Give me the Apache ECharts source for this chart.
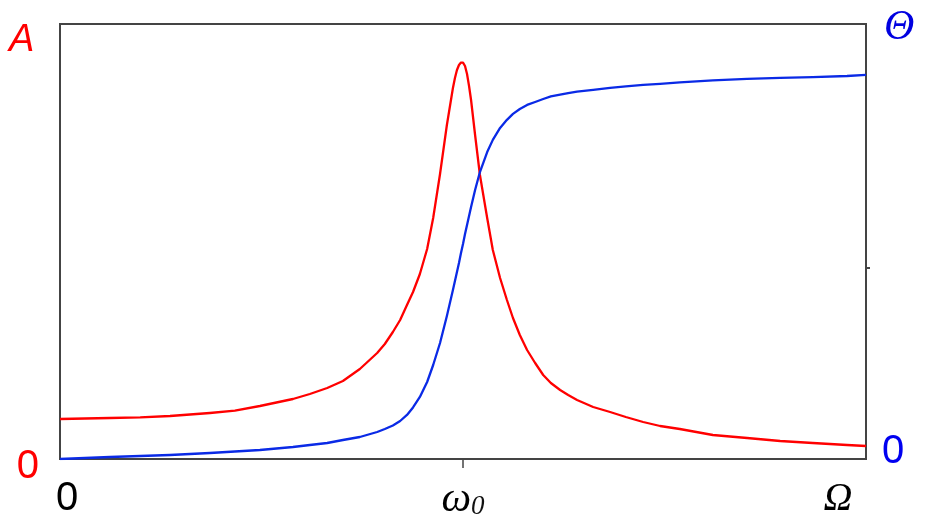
<!DOCTYPE html>
<html>
<head>
<meta charset="utf-8">
<script src="https://cdn.jsdelivr.net/npm/echarts@6/dist/echarts.min.js"></script>
<style>
html,body{margin:0;padding:0;background:#fff;}
#chart{width:926px;height:525px;}
</style>
</head>
<body>
<div id="chart"></div>
<script>
// frequency ratio Ω/ω0
const omega = [0, 0.124, 0.199, 0.273, 0.372, 0.434, 0.496, 0.578, 0.620, 0.663, 0.702, 0.744, 0.787, 0.806, 0.826, 0.844, 0.861, 0.876, 0.893, 0.911, 0.926, 0.943, 0.960, 0.975, 0.980, 0.985, 0.990, 0.995, 1.000, 1.005, 1.010, 1.015, 1.020, 1.030, 1.042, 1.060, 1.074, 1.092, 1.109, 1.124, 1.141, 1.159, 1.179, 1.199, 1.218, 1.241, 1.261, 1.283, 1.323, 1.365, 1.404, 1.447, 1.489, 1.538, 1.620, 1.705, 1.787, 1.868, 1.953, 2.0];
// amplitude A (relative to static amplitude)
const amplitude = [1.00, 1.025, 1.04, 1.075, 1.15, 1.21, 1.325, 1.50, 1.625, 1.775, 1.95, 2.25, 2.65, 2.875, 3.175, 3.475, 3.85, 4.175, 4.625, 5.25, 6.025, 7.125, 8.35, 9.275, 9.525, 9.725, 9.85, 9.91, 9.91, 9.825, 9.625, 9.325, 8.975, 8.10, 7.10, 6.025, 5.225, 4.525, 3.975, 3.525, 3.10, 2.725, 2.40, 2.10, 1.90, 1.725, 1.60, 1.475, 1.30, 1.175, 1.05, 0.925, 0.825, 0.75, 0.60, 0.525, 0.45, 0.40, 0.35, 0.325];
// phase Θ in degrees
const phase = [0, 0.94, 1.41, 1.88, 2.82, 3.52, 4.23, 5.63, 6.57, 7.51, 8.92, 10.33, 12.68, 14.08, 15.73, 17.84, 20.66, 24.18, 29.11, 36.15, 44.13, 54.46, 67.14, 79.34, 83.6, 87.8, 92.0, 96.7, 100.9, 105.6, 109.9, 114.1, 118.3, 126.3, 134.7, 144.1, 149.8, 155.4, 159.2, 162.0, 164.3, 166.2, 167.6, 169.0, 170.2, 171.1, 171.8, 172.5, 173.3, 174.2, 174.9, 175.6, 176.1, 176.8, 177.7, 178.4, 178.9, 179.3, 179.8, 180.3];
// tick labels
const xTickValues = [0, 1, 2];
const xTickLabels = ['0', 'ω0', 'Ω'];
const thetaTick = [90];

const chart = echarts.init(document.getElementById('chart'));
const redData = omega.map((w, i) => [w, amplitude[i]]);
const blueData = omega.map((w, i) => [w, phase[i]]);

const option = {
  backgroundColor: '#ffffff',
  animation: false,
  grid: {left: 60, right: 60, top: 24, bottom: 66, show: true, borderColor: '#444', borderWidth: 2, backgroundColor: 'transparent'},
  xAxis: {
    type: 'value', min: 0, max: 2,
    axisLine: {show: true, lineStyle: {color: '#444', width: 2}},
    splitLine: {show: false},
    axisTick: {show: true, customValues: [1], length: 9, lineStyle: {color: '#444', width: 1.5}},
    axisLabel: {
      customValues: xTickValues,
      margin: 20,
      formatter: function (v) {
        const i = xTickValues.indexOf(v);
        const t = xTickLabels[i];
        if (i === 0) return '{n|' + t + '}';
        if (i === 1) return '{w|ω}{s|0}';
        return '{o|' + t + '}';
      },
      rich: {
        n: {fontFamily: 'Liberation Sans', fontSize: 40, color: '#000', padding: [0, 0, 0, 14]},
        w: {fontFamily: 'Liberation Serif', fontStyle: 'italic', fontSize: 42, color: '#000'},
        s: {fontFamily: 'Liberation Serif', fontStyle: 'italic', fontSize: 27, color: '#111', padding: [14, 0, 0, 0]},
        o: {fontFamily: 'Liberation Serif', fontStyle: 'italic', fontSize: 40, color: '#000', padding: [0, 56, 0, 0]}
      }
    }
  },
  yAxis: [
    {
      type: 'value', min: 0, max: 10.875, position: 'left',
      axisLine: {show: true, lineStyle: {color: '#444', width: 2}},
      splitLine: {show: false},
      axisTick: {show: false},
      axisLabel: {
        customValues: [0], margin: 21,
        formatter: function(){ return '{r|0}'; },
        rich: {r: {color: '#f00', fontFamily: 'Liberation Sans', fontSize: 40, padding: [16, 0, 0, 0]}}
      }
    },
    {
      type: 'value', min: 0, max: 204.2, position: 'right',
      axisLine: {show: true, lineStyle: {color: '#444', width: 2}},
      splitLine: {show: false},
      axisTick: {show: true, customValues: thetaTick, length: 4, lineStyle: {color: '#444', width: 2}},
      axisLabel: {
        customValues: [0], margin: 16,
        formatter: function(){ return '{b|0}'; },
        rich: {b: {color: '#0000f0', fontFamily: 'Liberation Sans', fontSize: 40, padding: [0, 0, 14, 0]}}
      }
    }
  ],
  graphic: [
    {type: 'text', left: 9, top: 21, style: {text: 'A', fill: '#f00', font: 'italic 38px "Liberation Sans"'}},
    {type: 'text', left: 884, top: 7, style: {text: 'Θ', fill: '#0000e0', font: 'italic 42px "Liberation Serif"'}}
  ],
  series: [
    {type: 'line', yAxisIndex: 0, data: redData, showSymbol: false, smooth: false, lineStyle: {color: '#f00', width: 2.3, join: 'round'}, z: 3},
    {type: 'line', yAxisIndex: 1, data: blueData, showSymbol: false, smooth: false, lineStyle: {color: '#0a2ae6', width: 2.3, join: 'round'}, z: 4}
  ]
};
chart.setOption(option);
</script>
</body>
</html>
